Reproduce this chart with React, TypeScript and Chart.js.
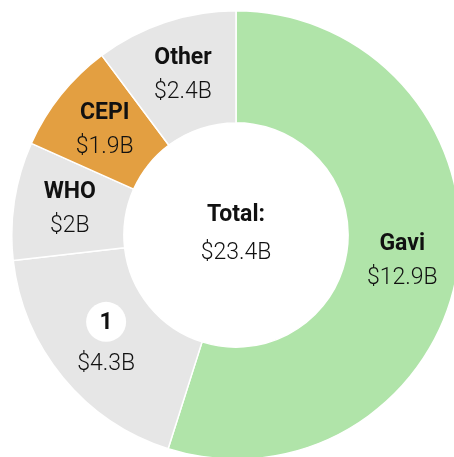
import React, { useEffect, useRef } from "react";
import { Chart, registerables } from "chart.js";

Chart.register(...registerables);

const categories = ["Gavi", "1", "WHO", "CEPI", "Other"];
const values = [12.9, 4.3, 2, 1.9, 2.4];
const valueLabels = ["$12.9B", "$4.3B", "$2B", "$1.9B", "$2.4B"];
const colors = ["#b0e4a9", "#e6e6e6", "#e6e6e6", "#e39f41", "#e6e6e6"];
const badgeCategories = ["1"];
const totalTitle = "Total:";
const totalLabel = "$23.4B";

const FONT_FAMILY = "Roboto, 'DejaVu Sans', sans-serif";
const FS = 23;

const labelPlugin = {
  id: "sliceLabels",
  afterDatasetsDraw(chart: any) {
    const ctx = chart.ctx as CanvasRenderingContext2D;
    const meta = chart.getDatasetMeta(0);
    ctx.save();
    ctx.textAlign = "center";
    ctx.textBaseline = "middle";
    meta.data.forEach((arc: any, i: number) => {
      const p = arc.getCenterPoint();
      const name = categories[i];
      if (badgeCategories.includes(name)) {
        ctx.beginPath();
        ctx.fillStyle = "#ffffff";
        ctx.arc(p.x, p.y - 20, 20, 0, Math.PI * 2);
        ctx.fill();
        ctx.fillStyle = "#111111";
        ctx.font = `700 ${FS}px ${FONT_FAMILY}`;
        ctx.fillText(name, p.x, p.y - 19);
        ctx.font = `300 ${FS}px ${FONT_FAMILY}`;
        ctx.fillText(valueLabels[i], p.x, p.y + 22);
      } else {
        ctx.fillStyle = "#111111";
        ctx.font = `700 ${FS}px ${FONT_FAMILY}`;
        ctx.fillText(name, p.x, p.y - 17);
        ctx.font = `300 ${FS}px ${FONT_FAMILY}`;
        ctx.fillText(valueLabels[i], p.x, p.y + 17);
      }
    });
    const area = chart.chartArea;
    const cx = (area.left + area.right) / 2;
    const cy = (area.top + area.bottom) / 2;
    ctx.fillStyle = "#111111";
    ctx.font = `700 ${FS}px ${FONT_FAMILY}`;
    ctx.fillText(totalTitle, cx, cy - 20);
    ctx.font = `300 ${FS}px ${FONT_FAMILY}`;
    ctx.fillText(totalLabel, cx, cy + 18);
    ctx.restore();
  },
};

export default function App() {
  const ref = useRef<HTMLCanvasElement | null>(null);
  useEffect(() => {
    if (!ref.current) return;
    const chart = new Chart(ref.current, {
      type: "doughnut",
      data: {
        labels: categories,
        datasets: [
          {
            data: values,
            backgroundColor: colors,
            borderColor: "#ffffff",
            borderWidth: 1.5,
          },
        ],
      },
      options: {
        responsive: false,
        animation: false,
        cutout: "50%",
        layout: { padding: 0 },
        plugins: {
          legend: { display: false },
          tooltip: { enabled: false },
        },
      },
      plugins: [labelPlugin],
    });
    return () => chart.destroy();
  }, []);
  return (
    <div
      style={{
        position: "fixed",
        left: 0,
        top: 0,
        width: 454,
        height: 457,
        overflow: "hidden",
        background: "#ffffff",
      }}
    >
      <div style={{ position: "absolute", left: 10.5, top: 10, width: 450, height: 450 }}>
        <canvas ref={ref} width={450} height={450} />
      </div>
    </div>
  );
}
